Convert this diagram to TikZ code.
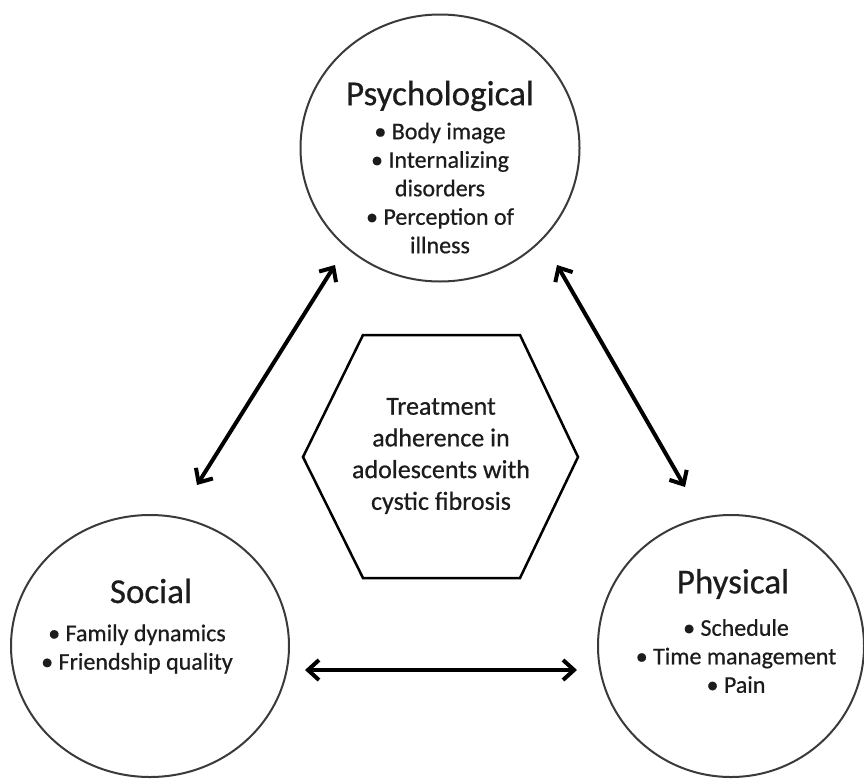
\documentclass[tikz,border=0pt]{standalone}
\usepackage{fontspec}
\setmainfont{Carlito}[FakeBold=0.6]
\usetikzlibrary{shapes.geometric,arrows.meta}
\definecolor{ink}{HTML}{1C1C1C}
\definecolor{rim}{HTML}{3A3A3A}
\begin{document}
\begin{tikzpicture}[x=1pt,y=-1pt,
  areabox/.style={ellipse,draw=rim,line width=2pt,inner sep=0pt},
  headtext/.style={text=ink,font=\fontsize{35}{40}\selectfont},
  itemtext/.style={text=ink,align=center,font=\fontsize{24}{28.5}\selectfont},
  coretext/.style={text=ink,align=center,font=\fontsize{26}{31.7}\selectfont},
  twoway/.style={line width=4pt,draw=black,
    {Straight Barb[length=11pt,width=20pt]}-{Straight Barb[length=11pt,width=20pt]}}]
\useasboundingbox (0,0) rectangle (864,779);

% three domains
\node[areabox,minimum width=279pt,minimum height=267pt] (psych) at (440,148) {};
\node[areabox,minimum width=278pt,minimum height=262pt] (social) at (150,646) {};
\node[areabox,minimum width=266pt,minimum height=262pt] (phys) at (731,646) {};

\node[headtext] (psychtitle) at (440,96) {Psychological};
\node[itemtext] (psychitems) at (440,188) {• Body image\\• Internalizing\\disorders\\• Perception of\\illness};

\node[headtext] (socialtitle) at (151,591) {Social};
\node[itemtext] (socialitems) at (137,649) {• Family dynamics\\• Friendship quality};

\node[headtext] (phystitle) at (733,584) {Physical};
\node[itemtext] (physitems) at (736,656) {• Schedule\\• Time management\\• Pain};

% central hexagon
\draw[line width=2.5pt,line join=miter]
  (363,335) -- (520,335) -- (578,457) -- (520,578) -- (363,578) -- (303,457) -- cycle;
\node[coretext] (centre) at (441,456) {Treatment\\adherence in\\adolescents with\\cystic fibrosis};

% two-way links between domains
\coordinate (sp1) at (197,485);
\coordinate (sp2) at (335,265);
\coordinate (pp1) at (557,265);
\coordinate (pp2) at (685,487);
\coordinate (ss1) at (305,670);
\coordinate (ss2) at (577,670);
\draw[twoway] (sp1) -- (sp2);
\draw[twoway] (pp1) -- (pp2);
\draw[twoway] (ss1) -- (ss2);
\end{tikzpicture}
\end{document}
